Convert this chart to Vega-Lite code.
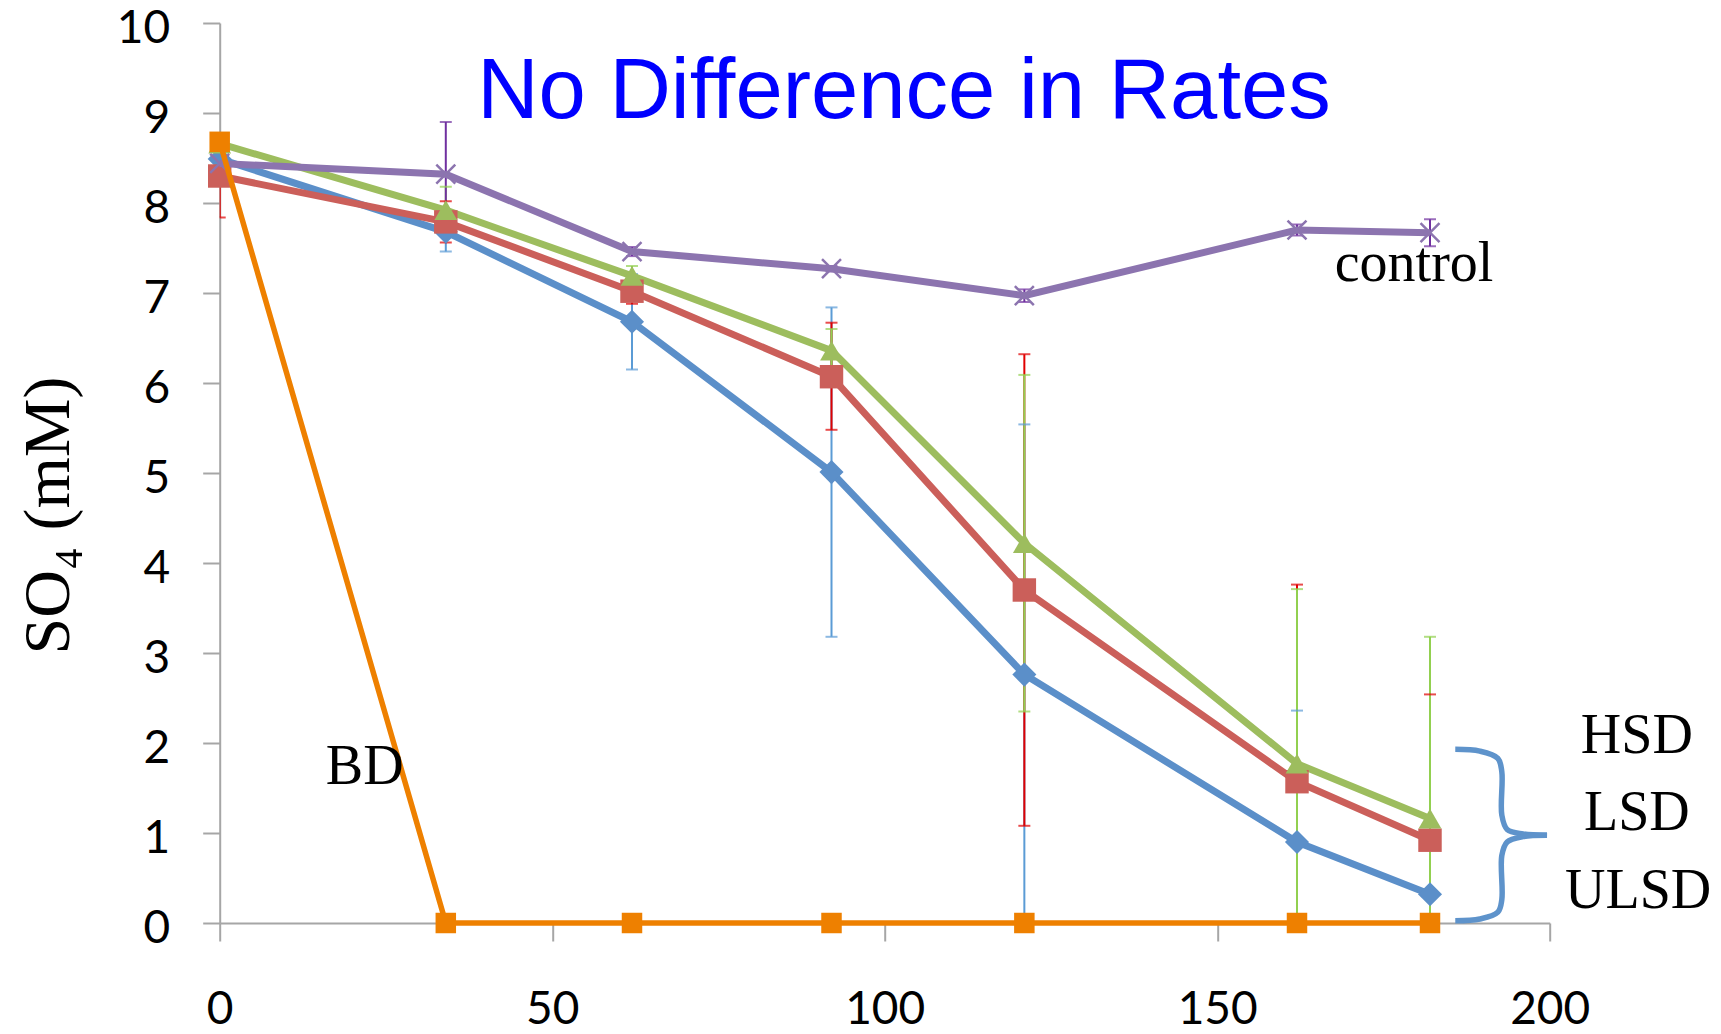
{
  "$schema": "https://vega.github.io/schema/vega-lite/v6.json",
  "width": 1330,
  "height": 900,
  "autosize": {"type": "none"},
  "padding": {"left": 219.7, "top": 23, "right": 171.3, "bottom": 111},
  "background": "white",
  "config": {
    "view": {"stroke": null},
    "axis": {
      "grid": false,
      "domainColor": "#A6A6A6",
      "tickColor": "#A6A6A6",
      "domainWidth": 2,
      "tickWidth": 2,
      "labelFont": "Lato",
      "labelFontSize": 46,
      "labelColor": "#000000",
      "labelFlush": false,
      "labelOverlap": false
    }
  },
  "datasets": {
    "so4": [
      {"series": "ULSD", "day": 0, "so4": 8.49, "lo": 8.44, "hi": 8.54},
      {"series": "ULSD", "day": 34, "so4": 7.68, "lo": 7.46, "hi": 7.90},
      {"series": "ULSD", "day": 62, "so4": 6.68, "lo": 6.15, "hi": 7.21},
      {"series": "ULSD", "day": 92, "so4": 5.01, "lo": 3.18, "hi": 6.84},
      {"series": "ULSD", "day": 121, "so4": 2.76, "lo": -0.02, "hi": 5.54},
      {"series": "ULSD", "day": 162, "so4": 0.90, "lo": -0.56, "hi": 2.36},
      {"series": "ULSD", "day": 182, "so4": 0.32, "lo": 0.27, "hi": 0.37},
      {"series": "LSD", "day": 0, "so4": 8.30, "lo": 7.84, "hi": 8.76},
      {"series": "LSD", "day": 34, "so4": 7.79, "lo": 7.56, "hi": 8.02},
      {"series": "LSD", "day": 62, "so4": 7.02, "lo": 6.88, "hi": 7.16},
      {"series": "LSD", "day": 92, "so4": 6.07, "lo": 5.48, "hi": 6.67},
      {"series": "LSD", "day": 121, "so4": 3.70, "lo": 1.08, "hi": 6.32},
      {"series": "LSD", "day": 162, "so4": 1.57, "lo": -0.62, "hi": 3.76},
      {"series": "LSD", "day": 182, "so4": 0.92, "lo": -0.70, "hi": 2.54},
      {"series": "HSD", "day": 0, "so4": 8.66, "lo": 8.60, "hi": 8.72},
      {"series": "HSD", "day": 34, "so4": 7.92, "lo": 7.66, "hi": 8.18},
      {"series": "HSD", "day": 62, "so4": 7.19, "lo": 7.08, "hi": 7.30},
      {"series": "HSD", "day": 92, "so4": 6.36, "lo": 6.12, "hi": 6.60},
      {"series": "HSD", "day": 121, "so4": 4.22, "lo": 2.35, "hi": 6.09},
      {"series": "HSD", "day": 162, "so4": 1.77, "lo": -0.17, "hi": 3.71},
      {"series": "HSD", "day": 182, "so4": 1.16, "lo": -0.86, "hi": 3.18},
      {"series": "control", "day": 0, "so4": 8.44, "lo": 8.39, "hi": 8.49},
      {"series": "control", "day": 34, "so4": 8.32, "lo": 7.74, "hi": 8.90},
      {"series": "control", "day": 62, "so4": 7.46, "lo": 7.41, "hi": 7.51},
      {"series": "control", "day": 92, "so4": 7.27, "lo": 7.24, "hi": 7.30},
      {"series": "control", "day": 121, "so4": 6.97, "lo": 6.90, "hi": 7.04},
      {"series": "control", "day": 162, "so4": 7.70, "lo": 7.64, "hi": 7.76},
      {"series": "control", "day": 182, "so4": 7.67, "lo": 7.52, "hi": 7.82},
      {"series": "BD", "day": 0, "so4": 8.68, "lo": 8.68, "hi": 8.68},
      {"series": "BD", "day": 34, "so4": 0, "lo": 0, "hi": 0},
      {"series": "BD", "day": 62, "so4": 0, "lo": 0, "hi": 0},
      {"series": "BD", "day": 92, "so4": 0, "lo": 0, "hi": 0},
      {"series": "BD", "day": 121, "so4": 0, "lo": 0, "hi": 0},
      {"series": "BD", "day": 162, "so4": 0, "lo": 0, "hi": 0},
      {"series": "BD", "day": 182, "so4": 0, "lo": 0, "hi": 0}
    ],
    "brace": [
      {"part": "upper", "ord": 1, "day": 185.8, "so4": 1.93},
      {"part": "upper", "ord": 2, "day": 189.5, "so4": 1.91},
      {"part": "upper", "ord": 3, "day": 192.2, "so4": 1.83},
      {"part": "upper", "ord": 4, "day": 192.8, "so4": 1.68},
      {"part": "upper", "ord": 5, "day": 192.8, "so4": 1.20},
      {"part": "upper", "ord": 6, "day": 193.6, "so4": 1.04},
      {"part": "upper", "ord": 7, "day": 196.0, "so4": 0.99},
      {"part": "upper", "ord": 8, "day": 199.6, "so4": 0.975},
      {"part": "lower", "ord": 1, "day": 199.6, "so4": 0.975},
      {"part": "lower", "ord": 2, "day": 196.0, "so4": 0.96},
      {"part": "lower", "ord": 3, "day": 193.6, "so4": 0.90},
      {"part": "lower", "ord": 4, "day": 192.8, "so4": 0.75},
      {"part": "lower", "ord": 5, "day": 192.8, "so4": 0.26},
      {"part": "lower", "ord": 6, "day": 192.2, "so4": 0.12},
      {"part": "lower", "ord": 7, "day": 189.5, "so4": 0.045},
      {"part": "lower", "ord": 8, "day": 185.8, "so4": 0.025}
    ],
    "notes": [
      {"label": "control", "day": 179.6, "so4": 7.13},
      {"label": "BD", "day": 21.8, "so4": 1.55},
      {"label": "HSD", "day": 213.1, "so4": 1.89},
      {"label": "LSD", "day": 213.1, "so4": 1.03},
      {"label": "ULSD", "day": 213.3, "so4": 0.17}
    ],
    "title": [
      {"label": "No Difference in Rates", "day": 102.9, "so4": 8.948}
    ]
  },
  "resolve": {"scale": {"color": "independent", "size": "independent", "shape": "independent"}},
  "layer": [
    {
      "data": {"name": "so4"},
      "transform": [{"filter": "datum.series !== 'BD'"}],
      "layer": [
        {
          "mark": {"type": "rule", "strokeWidth": 2, "clip": true},
          "encoding": {
            "x": {"field": "day", "type": "quantitative", "scale": {"domain": [0, 200], "nice": false},
                  "axis": {"values": [0, 50, 100, 150, 200], "format": "d", "tickSize": 18, "labelPadding": 46, "title": null}},
            "y": {"field": "lo", "type": "quantitative", "scale": {"domain": [0, 10], "nice": false},
                  "axis": {"values": [0, 1, 2, 3, 4, 5, 6, 7, 8, 9, 10], "format": "d", "tickSize": 17, "labelPadding": 33, "labelOffset": 5,
                           "title": "SO₄ (mM)", "titleFont": "Liberation Serif", "titleFontSize": 66, "titleFontWeight": "normal",
                           "titleColor": "#000000", "titlePadding": 34, "titleY": 492}},
            "y2": {"field": "hi"},
            "color": {"field": "series", "type": "nominal", "legend": null,
                      "scale": {"domain": ["ULSD", "LSD", "HSD", "control"], "range": ["#5B9BD5", "#E00000", "#92D050", "#7030A0"]}}
          }
        },
        {
          "mark": {"type": "tick", "orient": "horizontal", "size": 12, "thickness": 2, "clip": true},
          "encoding": {
            "x": {"field": "day", "type": "quantitative"},
            "y": {"field": "hi", "type": "quantitative"},
            "color": {"field": "series", "type": "nominal", "legend": null,
                      "scale": {"domain": ["ULSD", "LSD", "HSD", "control"], "range": ["#5B9BD5", "#E00000", "#92D050", "#7030A0"]}}
          }
        },
        {
          "mark": {"type": "tick", "orient": "horizontal", "size": 12, "thickness": 2, "clip": true},
          "encoding": {
            "x": {"field": "day", "type": "quantitative"},
            "y": {"field": "lo", "type": "quantitative"},
            "color": {"field": "series", "type": "nominal", "legend": null,
                      "scale": {"domain": ["ULSD", "LSD", "HSD", "control"], "range": ["#5B9BD5", "#E00000", "#92D050", "#7030A0"]}}
          }
        }
      ]
    },
    {
      "data": {"name": "so4"},
      "transform": [{"filter": "datum.series === 'ULSD' || datum.series === 'LSD' || datum.series === 'HSD'"}],
      "layer": [
        {
          "mark": {"type": "line", "strokeWidth": 7},
          "encoding": {
            "x": {"field": "day", "type": "quantitative"},
            "y": {"field": "so4", "type": "quantitative"},
            "color": {"field": "series", "type": "nominal", "legend": null,
                      "scale": {"domain": ["ULSD", "LSD", "HSD"], "range": ["#5B8FC9", "#CB5F5A", "#9DBD5E"]}}
          }
        },
        {
          "mark": {"type": "point", "filled": true, "opacity": 1},
          "encoding": {
            "x": {"field": "day", "type": "quantitative"},
            "y": {"field": "so4", "type": "quantitative"},
            "color": {"field": "series", "type": "nominal", "legend": null,
                      "scale": {"domain": ["ULSD", "LSD", "HSD"], "range": ["#5B8FC9", "#CB5F5A", "#9DBD5E"]}},
            "shape": {"field": "series", "type": "nominal", "legend": null,
                      "scale": {"domain": ["ULSD", "LSD", "HSD"], "range": ["diamond", "square", "triangle-up"]}},
            "size": {"field": "series", "type": "nominal", "legend": null,
                     "scale": {"domain": ["ULSD", "LSD", "HSD"], "range": [580, 520, 470]}}
          }
        }
      ]
    },
    {
      "data": {"name": "so4"},
      "transform": [{"filter": "datum.series === 'control'"}],
      "layer": [
        {
          "mark": {"type": "line", "strokeWidth": 7, "color": "#8C74AF"},
          "encoding": {
            "x": {"field": "day", "type": "quantitative"},
            "y": {"field": "so4", "type": "quantitative"}
          }
        },
        {
          "mark": {"type": "point", "filled": false, "shape": "M-1,-1L1,1M-1,1L1,-1", "size": 360, "strokeWidth": 2.5, "color": "#8C74AF", "opacity": 1},
          "encoding": {
            "x": {"field": "day", "type": "quantitative"},
            "y": {"field": "so4", "type": "quantitative"}
          }
        }
      ]
    },
    {
      "data": {"name": "so4"},
      "transform": [{"filter": "datum.series === 'BD'"}],
      "layer": [
        {
          "mark": {"type": "line", "strokeWidth": 5.5, "color": "#EE8000"},
          "encoding": {
            "x": {"field": "day", "type": "quantitative"},
            "y": {"field": "so4", "type": "quantitative"}
          }
        },
        {
          "mark": {"type": "point", "filled": true, "shape": "square", "size": 420, "color": "#EE8000", "opacity": 1},
          "encoding": {
            "x": {"field": "day", "type": "quantitative"},
            "y": {"field": "so4", "type": "quantitative"}
          }
        }
      ]
    },
    {
      "data": {"name": "brace"},
      "mark": {"type": "line", "strokeWidth": 5.5, "color": "#5E93CB", "interpolate": "catmull-rom"},
      "encoding": {
        "x": {"field": "day", "type": "quantitative"},
        "y": {"field": "so4", "type": "quantitative"},
        "detail": {"field": "part", "type": "nominal"},
        "order": {"field": "ord", "type": "quantitative"}
      }
    },
    {
      "data": {"name": "notes"},
      "mark": {"type": "text", "font": "Liberation Serif", "fontSize": 56, "align": "center", "baseline": "alphabetic", "color": "#000000"},
      "encoding": {
        "x": {"field": "day", "type": "quantitative"},
        "y": {"field": "so4", "type": "quantitative"},
        "text": {"field": "label", "type": "nominal"}
      }
    },
    {
      "data": {"name": "title"},
      "mark": {"type": "text", "font": "Liberation Sans", "fontSize": 85, "align": "center", "baseline": "alphabetic", "color": "#0000FF"},
      "encoding": {
        "x": {"field": "day", "type": "quantitative"},
        "y": {"field": "so4", "type": "quantitative"},
        "text": {"field": "label", "type": "nominal"}
      }
    }
  ]
}
